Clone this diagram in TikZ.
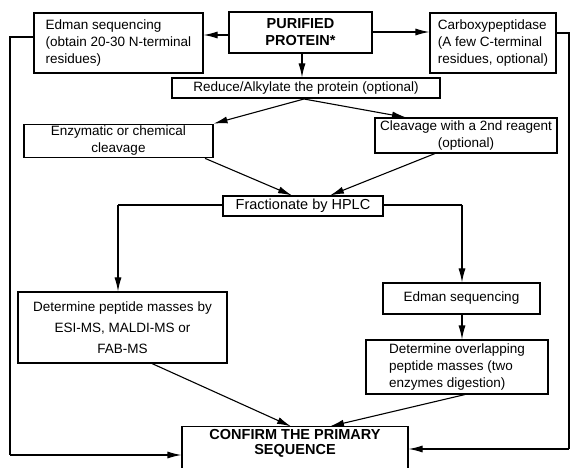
\documentclass[tikz,border=0pt]{standalone}
\usepackage{fontspec}
\setmainfont{Liberation Sans}
\usetikzlibrary{arrows.meta}
\begin{document}
\begin{tikzpicture}[x=1pt,y=-1pt,
  box/.style={draw, line width=1.1pt, inner sep=2pt, font=\fontsize{13.5}{17}\selectfont},
  conn/.style={line width=1.1pt},
  arr/.style={line width=1.1pt, -{Latex[length=14pt,width=7pt]}}]
\useasboundingbox (0,0) rectangle (571,468);
\node[box, minimum width=169pt, minimum height=60pt, align=left] (edL) at (118.5,43)
  {Edman sequencing\\(obtain 20-30 N-terminal\\residues)};
\node[box, minimum width=143pt, minimum height=41pt, align=center, font=\fontsize{14.5}{17}\selectfont\bfseries] (pur) at (300.5,32.5)
  {PURIFIED\\PROTEIN*};
\node[box, minimum width=126pt, minimum height=60pt, align=left] (carb) at (493,43)
  {Carboxypeptidase\\(A few C-terminal\\residues, optional)};
\node[box, minimum width=268pt, minimum height=20pt] (red) at (306,88)
  {Reduce/Alkylate the protein (optional)};
\node[box, minimum width=189pt, minimum height=30pt, align=center] (enz) at (118.5,141)
  {Enzymatic or chemical\\cleavage};
\node[box, minimum width=182pt, minimum height=35pt, align=center] (cl2) at (466,135.5)
  {Cleavage with a 2nd reagent\\(optional)};
\node[box, minimum width=160pt, minimum height=20pt, font=\fontsize{14.5}{17}\selectfont] (hplc) at (303,206)
  {Fractionate by HPLC};
\node[box, minimum width=209pt, minimum height=71pt, align=center, font=\fontsize{13.5}{21}\selectfont] (detp) at (122.5,327.5)
  {Determine peptide masses by\\ESI-MS, MALDI-MS or\\FAB-MS};
\node[box, minimum width=157pt, minimum height=31pt] (ed2) at (461.5,298.5)
  {Edman sequencing};
\node[box, minimum width=182pt, minimum height=54pt, align=left] (ov) at (457,367)
  {Determine overlapping\\peptide masses (two\\enzymes digestion)};
\node[box, minimum width=226pt, minimum height=44pt, align=center, font=\fontsize{14.5}{15}\selectfont\bfseries] (conf) at (295,452)
  {CONFIRM THE PRIMARY\\SEQUENCE\\[6pt]};
% free-end coordinates
\coordinate (ltop) at (10,37);
\coordinate (lbot) at (10,455);
\coordinate (rtop) at (569,33);
\coordinate (rbot) at (569,449);
\coordinate (fork) at (304,99);
\coordinate (hl) at (118,205);
\coordinate (hr) at (462,205);
% connectors
\draw[arr] (pur.west |- 0,35) -- (edL.east |- 0,35);
\draw[arr] (pur.east |- 0,32) -- (carb.west |- 0,32);
\draw[arr] (302,0 |- pur.south) -- (302,0 |- red.north);
\draw[conn] (edL.west |- ltop) -- (ltop) -- (lbot);
\draw[arr] (lbot) -- (conf.west |- lbot);
\draw[conn] (carb.east |- rtop) -- (rtop) -- (rbot);
\draw[arr] (rbot) -- (conf.east |- rbot);
\draw[arr] (fork) -- (enz.north east);
\draw[arr] (fork) -- (406,0 |- cl2.north);
\draw[arr] (205,0 |- enz.south) -- (292,0 |- hplc.north);
\draw[arr] (435,0 |- cl2.south) -- (330,0 |- hplc.north);
\draw[conn] (hplc.west |- hl) -- (hl);
\draw[arr] (hl) -- (hl |- detp.north);
\draw[conn] (hplc.east |- hr) -- (hr);
\draw[arr] (hr) -- (hr |- ed2.north);
\draw[arr] (462,0 |- ed2.south) -- (462,0 |- ov.north);
\draw[arr] (152,0 |- detp.south) -- (291,0 |- conf.north);
\draw[arr] (465,0 |- ov.south) -- (330,0 |- conf.north);
\end{tikzpicture}
\end{document}
